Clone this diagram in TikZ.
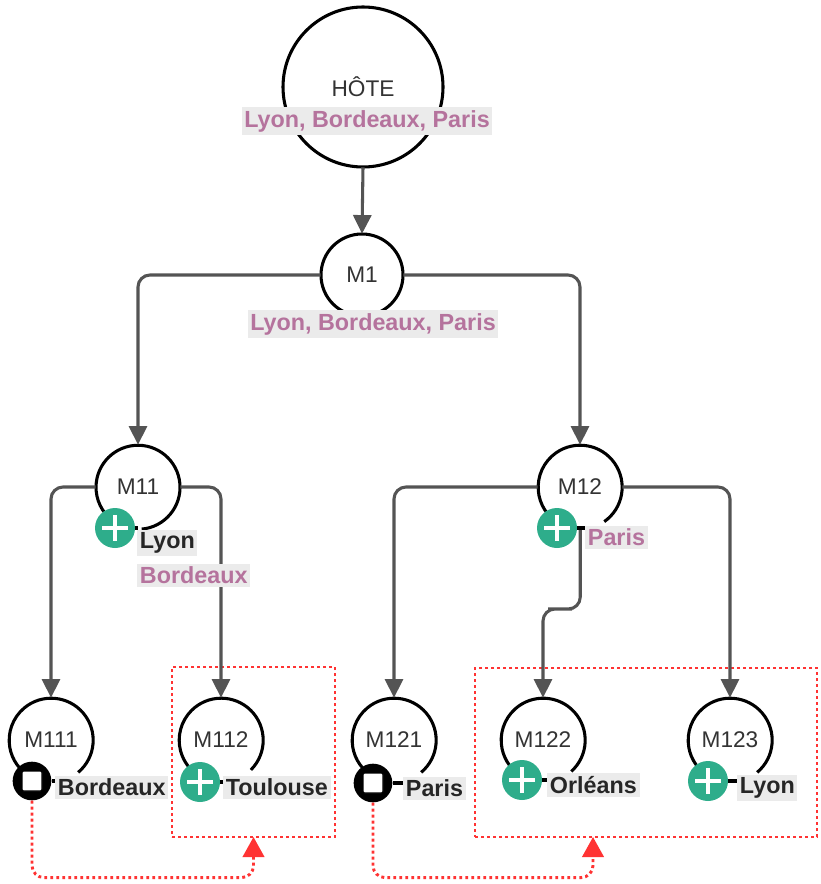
\documentclass[tikz,border=0pt]{standalone}
\usepackage{fontspec}
\setmainfont{Liberation Sans}
\usetikzlibrary{arrows.meta,calc}
\definecolor{pinkc}{HTML}{B5739D}
\definecolor{bgc}{HTML}{EBEBEB}
\definecolor{greenc}{HTML}{2EAD8B}
\definecolor{linec}{HTML}{545454}
\definecolor{redc}{HTML}{FF3333}
\definecolor{txtc}{HTML}{333333}
\newcommand\mkplus[3]{%
  \node[plusicon] (#1) at (#2,#3) {};
  \draw[white,line width=3.2pt] ([xshift=-9.6pt]#1.center) -- ([xshift=9.6pt]#1.center)
       ([yshift=-9.6pt]#1.center) -- ([yshift=9.6pt]#1.center);}
\newcommand\mkstop[3]{%
  \node[stopicon] (#1) at (#2,#3) {};
  \node[draw=black,fill=white,line width=0.9pt,minimum size=15pt,inner sep=0pt,rounded corners=1pt] (#1sq) at (#1) {};}
\begin{document}
\begin{tikzpicture}[x=0.75pt,y=-0.75pt,
  conn/.style={draw=linec,line width=2.3pt,rounded corners=9pt,-{Triangle[length=14pt,width=13.5pt]}},
  mnode/.style={circle,minimum size=63pt,inner sep=0pt,font=\fontsize{17pt}{19pt}\selectfont,text=txtc},
  ring/.style={draw=black,line width=2.3pt},
  lbl/.style={fill=bgc,inner xsep=2pt,inner ysep=2.2pt,font=\bfseries\fontsize{17.5pt}{19pt}\selectfont},
  plab/.style={lbl,text=pinkc},
  blab/.style={lbl,text=black!85},
  plusicon/.style={circle,fill=greenc,minimum size=30pt,inner sep=0pt},
  stopicon/.style={circle,fill=black,minimum size=29pt,inner sep=0pt},
  grp/.style={draw=redc,line width=2.2pt,dash pattern=on 2.2pt off 2.3pt,inner sep=0pt,outer sep=0pt},
  redarr/.style={draw=redc,line width=2.2pt,dash pattern=on 2.2pt off 2.3pt,rounded corners=9pt,-{Triangle[length=15pt,width=16pt,fill=redc]}},
  stub/.style={draw=black,line width=2.3pt}
]
\useasboundingbox (0,0) rectangle (820,884);

% groups
\node[grp,minimum width=122.25pt,minimum height=127.5pt] (grp1) at (253.5,752) {};
\node[grp,minimum width=256.5pt,minimum height=126.75pt] (grp2) at (646,752.5) {};
\coordinate (g2in) at (593,837);

% nodes
\node[mnode,minimum size=120pt] (hote) at (363,87) {HÔTE};
\node[mnode,minimum size=61.5pt] (m1) at (362,275) {M1};
\node[mnode] (m11) at (138,487) {M11};
\node[mnode] (m12) at (580,487) {M12};
\node[mnode] (m111) at (51,740) {M111};
\node[mnode] (m112) at (221,740) {M112};
\node[mnode] (m121) at (394,740) {M121};
\node[mnode] (m122) at (543,740) {M122};
\node[mnode] (m123) at (730,740) {M123};

% rings
\draw[ring] (hote) circle[radius=60pt];
\draw[ring] (m1) circle[radius=30.75pt];
\draw[ring] (m11.-85) arc[start angle=-85,end angle=240,radius=31.5pt];
\draw[ring] (m12.-55) arc[start angle=-55,end angle=240,radius=31.5pt];
\draw[ring] (m111.-50) arc[start angle=-50,end angle=240,radius=31.5pt];
\draw[ring] (m112.-45) arc[start angle=-45,end angle=240,radius=31.5pt];
\draw[ring] (m121.-50) arc[start angle=-50,end angle=240,radius=31.5pt];
\draw[ring] (m122.-48) arc[start angle=-48,end angle=240,radius=31.5pt];
\draw[ring] (m123.-50) arc[start angle=-50,end angle=240,radius=31.5pt];

% connectors
\draw[conn] (hote.south) -- (m1.north);
\draw[conn] (m1.west) -| (m11.north);
\draw[conn] (m1.east) -| (m12.north);
\draw[conn] (m11.west) -| (m111.north);
\draw[conn] (m11.east) -| (m112.north);
\draw[conn] (m12.west) -| (m121.north);
\draw[conn] (m12.east) -| (m123.north);

% icons
\mkplus{p11}{115}{528}
\mkplus{p12}{557}{528}
\mkstop{s111}{32}{781}
\mkplus{p112}{200}{782}
\mkstop{s121}{373}{783}
\mkplus{p122}{522}{780}
\mkplus{p123}{708}{781}

\coordinate (mid12) at (560,609);
\draw[conn] ([xshift=2.25pt]p12.east) |- (mid12) -| (m122.north);

% labels
\node[plab] (lh) at (367,121) {Lyon, Bordeaux, Paris};
\node[plab] (lm1) at (373,324) {Lyon, Bordeaux, Paris};
\node[blab,anchor=west] (l11a) at (137,543) {Lyon};
\node[plab,anchor=west] (l11b) at (137,575) {Bordeaux};
\node[plab,anchor=west] (l12) at (585,537) {Paris};
\node[blab,anchor=west] (l111) at (55,787) {Bordeaux};
\node[blab,anchor=west] (l112) at (223,787) {Toulouse};
\node[blab,anchor=west] (l121) at (403,788) {Paris};
\node[blab,anchor=west] (l122) at (547,785) {Orléans};
\node[blab,anchor=west] (l123) at (737,788) {Lyon};

% stubs
\draw[stub] (p11.east) -- ++(3,0);
\draw[stub] (p12.east) -- ++(8,0);
\draw[stub] (s111.east) -- (l111.west |- s111.east);
\draw[stub] (p112.east) -- (l112.west |- p112.east);
\draw[stub] (s121.east) -- (l121.west |- s121.east);
\draw[stub] (p122.east) -- (l122.west |- p122.east);
\draw[stub] (p123.east) -- (l123.west |- p123.east);

% red links
\draw[redarr] (s111.south) -- ++(0,77) -| (grp1.south);
\draw[redarr] (s121.south) -- ++(0,75) -| (g2in);
\end{tikzpicture}
\end{document}
